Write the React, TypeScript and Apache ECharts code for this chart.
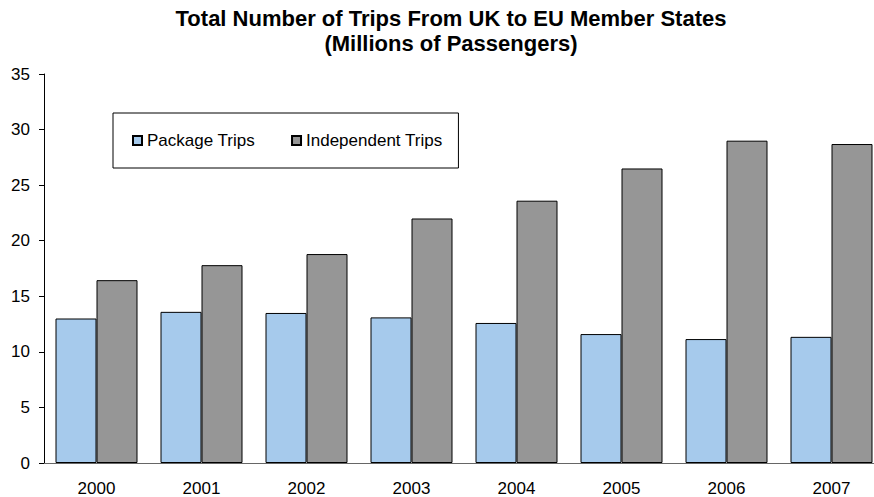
import React, { useEffect, useRef } from "react";
import * as echarts from "echarts";

const years = ["2000", "2001", "2002", "2003", "2004", "2005", "2006", "2007"];
const packageTrips = [13.0, 13.6, 13.5, 13.1, 12.6, 11.6, 11.15, 11.35];
const independentTrips = [16.45, 17.8, 18.8, 22.0, 23.6, 26.5, 29.0, 28.7];
const titleLines = ["Total Number of Trips From UK to EU Member States", "(Millions of Passengers)"];

export default function App() {
  const ref = useRef<HTMLDivElement>(null);
  useEffect(() => {
    if (!ref.current) return;
    const chart = echarts.init(ref.current, undefined, { renderer: "svg" });
    const font = "Liberation Sans, Arial, sans-serif";
    chart.setOption({
      animation: false,
      backgroundColor: "#ffffff",
      textStyle: { fontFamily: font },
      title: {
        text: titleLines.join("\n"),
        left: 451,
        top: 6,
        padding: 0,
        textAlign: "center",
        textStyle: {
          fontFamily: font,
          fontSize: 22,
          fontWeight: "bold",
          color: "#000",
          lineHeight: 25,
        },
      },
      legend: {
        left: 113,
        top: 113,
        orient: "horizontal",
        padding: [19, 16, 19, 19],
        itemGap: 36,
        itemWidth: 9,
        itemHeight: 9,
        borderColor: "#000",
        borderWidth: 1,
        backgroundColor: "#fff",
        textStyle: { fontFamily: font, fontSize: 17, color: "#000" },
        data: [
          { name: "Package Trips", icon: "rect" },
          { name: "Independent Trips", icon: "rect" },
        ],
      },
      grid: {
        left: 44,
        top: 74,
        width: 840,
        bottom: 34,
        containLabel: false,
        outerBoundsMode: "none",
      },
      xAxis: {
        type: "category",
        data: years,
        axisLine: { show: true, lineStyle: { color: "#666", width: 1 } },
        axisTick: { show: false },
        axisLabel: { fontFamily: font, fontSize: 17, color: "#000", margin: 17 },
      },
      yAxis: {
        type: "value",
        min: 0,
        max: 35,
        interval: 5,
        splitLine: { show: false },
        axisLine: { show: true, lineStyle: { color: "#000", width: 1 } },
        axisTick: { show: true, length: 5, lineStyle: { color: "#000" } },
        axisLabel: { fontFamily: font, fontSize: 17, color: "#000", margin: 14 },
      },
      series: [
        {
          name: "Package Trips",
          type: "bar",
          data: packageTrips,
          barWidth: 41,
          barGap: "0%",
          itemStyle: { color: "#A6CAEC", borderColor: "#000", borderWidth: 1 },
        },
        {
          name: "Independent Trips",
          type: "bar",
          data: independentTrips,
          barWidth: 41,
          barGap: "0%",
          itemStyle: { color: "#969696", borderColor: "#000", borderWidth: 1 },
        },
      ],
    });
    return () => chart.dispose();
  }, []);
  return (
    <div
      ref={ref}
      style={{ position: "absolute", left: 0, top: 0, width: 874, height: 497 }}
    />
  );
}
